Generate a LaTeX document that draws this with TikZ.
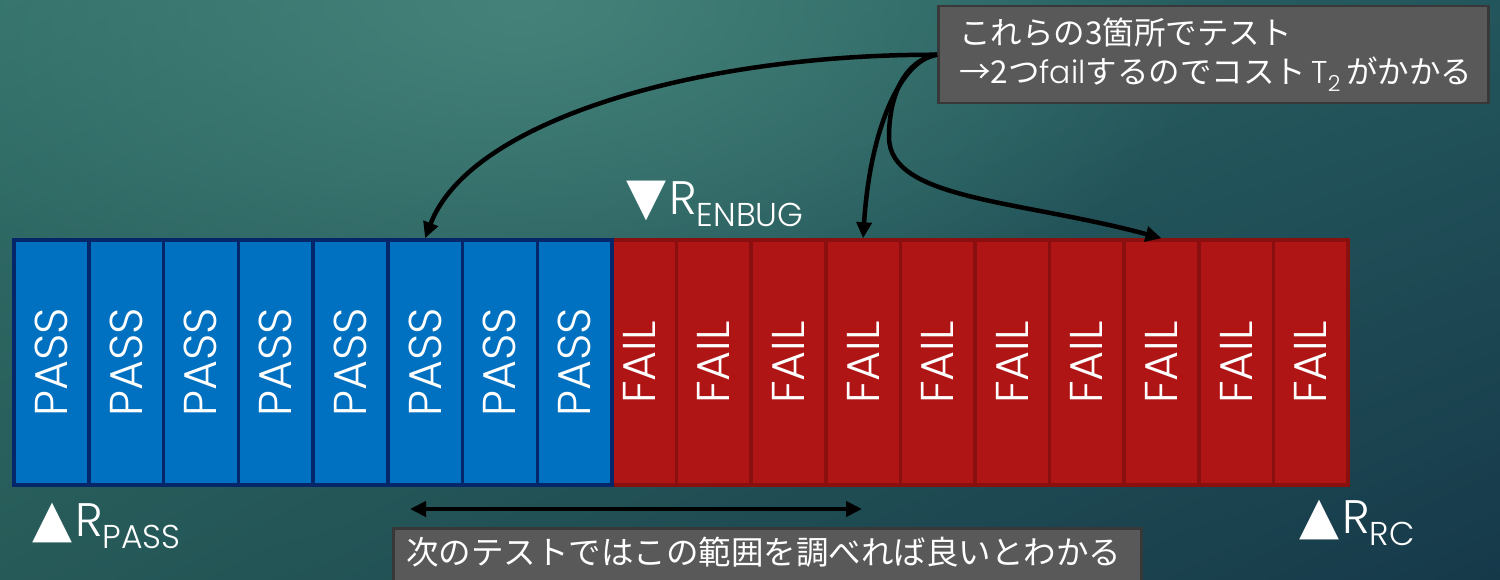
\documentclass[tikz,border=0pt]{standalone}
\usepackage{fontspec}
\usepackage{graphicx}
\setmainfont{Poppins Light}
\newfontfamily\jp{Noto Sans CJK JP}
\newfontfamily\symf{DejaVu Sans}
\usetikzlibrary{arrows.meta,shadings,fadings}
\definecolor{passfill}{HTML}{0070C0}
\definecolor{passline}{HTML}{06266A}
\definecolor{failfill}{HTML}{B01515}
\definecolor{failline}{HTML}{8A0F0F}
\definecolor{notefill}{HTML}{595959}
\definecolor{noteline}{HTML}{383838}
\definecolor{bgUL}{HTML}{32706A}
\definecolor{bgUR}{HTML}{23565C}
\definecolor{bgLL}{HTML}{265A58}
\definecolor{bgLR}{HTML}{16394A}
\definecolor{bgHi}{HTML}{45837A}
\tikzfading[name=softspot, inner color=transparent!0, outer color=transparent!100]
\tikzset{
  passbox/.style={draw=passline, fill=passfill, line width=3.5pt, minimum width=74.75pt, minimum height=245pt, inner sep=0pt, text=white, font=\fontsize{46}{46}\selectfont},
  failbox/.style={draw=failline, fill=failfill, line width=3.5pt, minimum width=74.6pt, minimum height=245pt, inner sep=0pt, text=white, font=\fontsize{46}{46}\selectfont},
  notebox/.style={draw=noteline, fill=notefill, line width=2.5pt, text=white, inner sep=0pt},
  conn/.style={line width=4.5pt, draw=black, -{Triangle[length=16pt,width=15pt]}},
  dconn/.style={line width=4.5pt, draw=black, {Triangle[length=16pt,width=15pt]}-{Triangle[length=16pt,width=15pt]}},
  rlabel/.style={text=white, inner sep=0pt, anchor=base west, font=\fontsize{47}{47}\selectfont}
}
\newcommand{\subtxt}[1]{\raisebox{-12pt}{\fontsize{33}{33}\selectfont #1}}
\newcommand{\tri}[1]{{\symf\fontsize{52}{52}\selectfont #1}\hspace{3pt}}
\begin{document}
\begin{tikzpicture}[x=1pt,y=-1pt]
\useasboundingbox (0,0) rectangle (1500,580);
\clip (0,0) rectangle (1500,580);
\shade[upper left=bgUL, upper right=bgUR, lower left=bgLL, lower right=bgLR] (0,0) rectangle (1500,580);
\fill[bgHi, path fading=softspot] (520,0) ellipse (700 and 380);
% boxes
\foreach \i in {1,...,10}
  \node[failbox] (f\i) at ({602+(\i-0.5)*74.6}, 362.5) {\rotatebox{90}{FAIL}};
\foreach \i in {1,...,8}
  \node[passbox] (p\i) at ({14+(\i-0.5)*74.75}, 362.5) {\rotatebox{90}{PASS}};
% labels
\node[rlabel] (renbug) at (626,215) {\tri{▼}R\subtxt{ENBUG}};
\node[rlabel] (rpass) at (32,536) {\tri{▲}R\subtxt{PASS}};
\node[rlabel] (rrc) at (1299,533) {\tri{▲}R\subtxt{RC}};
% notes
\node[notebox, anchor=north west, minimum width=550pt, minimum height=97pt, text width=530pt, inner xsep=10pt, inner ysep=0pt, align=left,
  font=\jp\fontsize{31.5}{39}\selectfont] (note) at (937,5)
  {\hspace{11pt}これらの3箇所でテスト\\\hspace{11pt}→2つ{\rmfamily fail}するのでコスト{\rmfamily\,T\textsubscript{2}\,}がかかる};
\node[notebox, anchor=north west, minimum width=748pt, text width=722pt, inner xsep=13pt, inner ysep=4pt, text height=32.5pt, text depth=20pt, align=left,
  font=\jp\fontsize{32.5}{40}\selectfont] (range) at (392,527)
  {次のテストではこの範囲を調べれば良いとわかる};
% connectors
\draw[conn] (note.west) .. controls (700,54) and (470,120) .. (p6.north);
\draw[conn] (note.west) .. controls (900,60) and (870,130) .. (f4.north);
\draw[conn] (note.west) .. controls (905,60) and (889,95) .. (889,137)
   .. controls (889,200) and (1020,200) .. (f8.north);
\coordinate (rangeL) at (410,509);
\coordinate (rangeR) at (862,509);
\draw[dconn] (rangeL) -- (rangeR);
\end{tikzpicture}
\end{document}
